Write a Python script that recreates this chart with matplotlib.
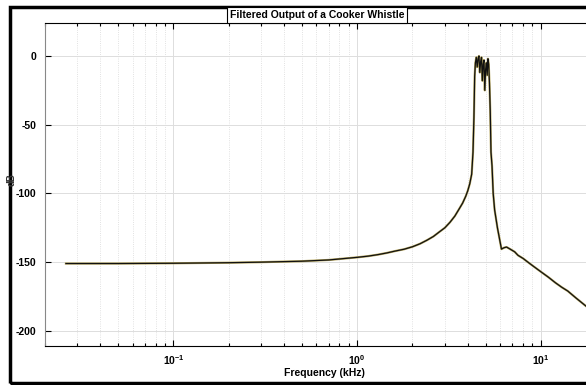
import numpy as np
import matplotlib
matplotlib.use('Agg')
import matplotlib.pyplot as plt
from matplotlib.patches import Rectangle
from matplotlib.ticker import LogLocator, NullFormatter

plt.rcParams['font.family'] = ['Liberation Sans', 'DejaVu Sans']
plt.rcParams['mathtext.fontset'] = 'custom'
plt.rcParams['mathtext.rm'] = 'Liberation Sans'
plt.rcParams['mathtext.bf'] = 'Liberation Sans:bold'

# Spectrum (frequency in kHz, level in dB)
freq_khz = [0.026, 0.05, 0.1, 0.2, 0.3, 0.5, 0.7, 1.0, 1.15, 1.3, 1.45, 1.6,
            1.8, 2.0, 2.2, 2.4, 2.6, 2.8, 3.0, 3.2, 3.4, 3.6, 3.75, 3.9, 4.0,
            4.1, 4.2, 4.27, 4.32, 4.36, 4.4, 4.45, 4.5, 4.55,
            4.6, 4.65, 4.7, 4.75, 4.8, 4.85, 4.9, 4.95, 5.0, 5.05, 5.1, 5.15,
            5.2, 5.25, 5.3, 5.35, 5.42, 5.5, 5.6, 5.8, 6.1, 6.3, 6.5, 6.8,
            7.2, 7.5, 8.0, 8.5, 9.0, 10.0, 11.0, 12.0, 13.0, 14.0, 15.5,
            17.6, 22.0]
level_db = [-151.0, -151.0, -150.8, -150.4, -150.0, -149.3, -148.4, -146.5,
            -145.6, -144.5, -143.3, -142.0, -140.6, -138.8, -136.6, -134.0,
            -131.3, -128.0, -125.0, -121.0, -116.5, -111.0, -107.0, -102.0,
            -98.0, -93.0, -86.0, -70.0, -45.0, -15.0, -5.0, -1.0, -8.0, -2.0,
            0.0, -12.0, -4.0, -1.0, -18.0, -6.0, -3.0, -25.0, -10.0, -5.0,
            -14.0, -2.0, -6.0, -20.0, -40.0, -70.0, -80.0, -100.0, -112.0,
            -125.0, -140.5, -139.5, -139.0, -140.5, -142.5, -145.0, -147.3,
            -150.0, -152.5, -157.0, -161.0, -165.0, -168.3, -171.0, -176.0,
            -182.0, -190.0]

x_ticks = [0.1, 1, 10]
x_tick_labels = [r'$\mathbf{10^{-1}}$', r'$\mathbf{10^{0}}$', r'$\mathbf{10^{1}}$']
y_ticks = [0, -50, -100, -150, -200]

fig = plt.figure(figsize=(5.86, 3.85), dpi=100)
ax = fig.add_axes([45 / 586, 1 - 346 / 385, (604 - 45) / 586, (346 - 23) / 385])

ax.semilogx(freq_khz, level_db, color='#b8a860', lw=1.6, zorder=3)
ax.semilogx(freq_khz, level_db, color='#111111', lw=0.9, zorder=4)

ax.set_xlim(0.02, 22.05)
ax.set_ylim(-211, 24)
ax.set_xticks(x_ticks, labels=x_tick_labels)
ax.xaxis.set_minor_locator(LogLocator(base=10, subs=np.arange(2, 10)))
ax.xaxis.set_minor_formatter(NullFormatter())
ax.set_yticks(y_ticks)
ax.set_yticklabels([str(v) for v in y_ticks], fontweight='bold')

ax.grid(True, which='major', color='#dddddd', lw=0.7)
ax.grid(True, which='minor', axis='x', color='#d8d8d8', lw=0.6, ls=':')
ax.tick_params(which='both', direction='in', top=True, labelsize=7.5, width=0.8)
ax.tick_params(which='major', length=4)
ax.tick_params(which='minor', length=2.5)
ax.tick_params(axis='y', pad=6)
ax.tick_params(axis='x', pad=5)
for s in ax.spines.values():
    s.set_linewidth(0.8)
ax.spines['left'].set_color('#888888')

ax.set_xlabel('Frequency (kHz)', fontsize=7.5, fontweight='bold', labelpad=1)
fig.text(12 / 586, 1 - 180 / 385, 'dB', rotation=90, fontsize=7, fontweight='bold',
         ha='center', va='center', color='#333333')

fig.text(317 / 586, 1 - 15 / 385, 'Filtered Output of a Cooker Whistle', fontsize=7.5,
         fontweight='bold', ha='center', va='center',
         bbox=dict(boxstyle='square,pad=0.25', fc='white', ec='black', lw=0.8))

fig.patches.append(Rectangle((10 / 586, 2 / 385), 1.0, 1 - 9 / 385, transform=fig.transFigure,
                             fill=False, ec='black', lw=2.5, clip_on=False))

fig.savefig('out.png', dpi=100)
